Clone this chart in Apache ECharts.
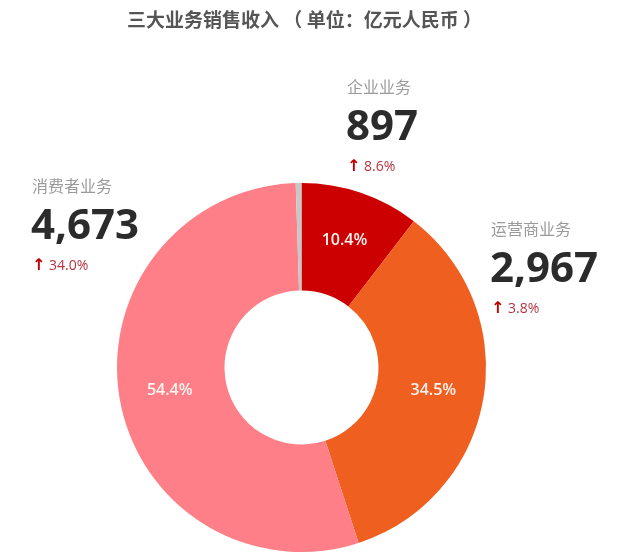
<!DOCTYPE html>
<html>
<head>
<meta charset="utf-8">
<script src="https://cdn.jsdelivr.net/npm/echarts@6/dist/echarts.min.js"></script>
<style>
  html, body { margin: 0; padding: 0; background: #fff; }
  #main { width: 620px; height: 560px; }
</style>
</head>
<body>
<div id="main"></div>
<script>
// 数据
var segments = ['企业业务', '运营商业务', '消费者业务', '其他'];
var shares = [10.4, 34.5, 54.4, 0.5];        // 占比 %
var revenue = [897, 2967, 4673];              // 亿元人民币
var growth = [8.6, 3.8, 34.0];                // 同比增长 %

var colors = ['#cc0000', '#ef5f1f', '#fe7f87', '#c8c8c8'];
// 每个业务说明块的左上位置
var blockPos = [[347, 87], [491, 229], [32, 186]];

var cjk = '"Noto Sans CJK SC", sans-serif';
var num = '"Open Sans", "Liberation Sans", sans-serif';

var pieData = [];
for (var i = 0; i < segments.length; i++) {
    pieData.push({
        name: segments[i],
        value: shares[i],
        itemStyle: { color: colors[i] },
        label: { show: i < 3 }
    });
}

var graphics = [];
for (var j = 0; j < 3; j++) {
    var px = blockPos[j][0], py = blockPos[j][1];
    graphics.push({
        type: 'text', x: px, y: py,
        style: { text: segments[j], fill: '#9a9a9a', font: '16px ' + cjk, verticalAlign: 'middle' }
    });
    graphics.push({
        type: 'text', x: px - 1, y: py + 41,
        style: { text: revenue[j].toLocaleString('en-US'), fill: '#2b2b2b', font: 'bold 42px ' + num, verticalAlign: 'middle' }
    });
    graphics.push({
        type: 'text', x: px, y: py + 80,
        style: { text: '↑', fill: '#c00000', font: 'bold 16px "DejaVu Sans", sans-serif', verticalAlign: 'middle' }
    });
    graphics.push({
        type: 'text', x: px + 17, y: py + 80,
        style: { text: growth[j].toFixed(1) + '%', fill: '#b8323e', font: '14px ' + num, verticalAlign: 'middle' }
    });
}

var myChart = echarts.init(document.getElementById('main'));
var option = {
    animation: false,
    title: {
        text: '三大业务销售收入 （ 单位：亿元人民币 ）',
        left: 122,
        top: 5,
        textStyle: {
            color: '#555555',
            fontSize: 19,
            fontWeight: 'bold',
            fontFamily: cjk
        }
    },
    graphic: graphics,
    series: [{
        type: 'pie',
        center: [301.5, 367.5],
        radius: [77, 184.5],
        startAngle: 90,
        clockwise: true,
        avoidLabelOverlap: false,
        label: {
            position: 'inside',
            color: '#fff4ef',
            fontSize: 16,
            fontWeight: 600,
            fontFamily: num,
            formatter: function (p) { return p.value.toFixed(1) + '%'; }
        },
        labelLine: { show: false },
        emphasis: { disabled: true },
        data: pieData
    }]
};
myChart.setOption(option);
</script>
</body>
</html>
